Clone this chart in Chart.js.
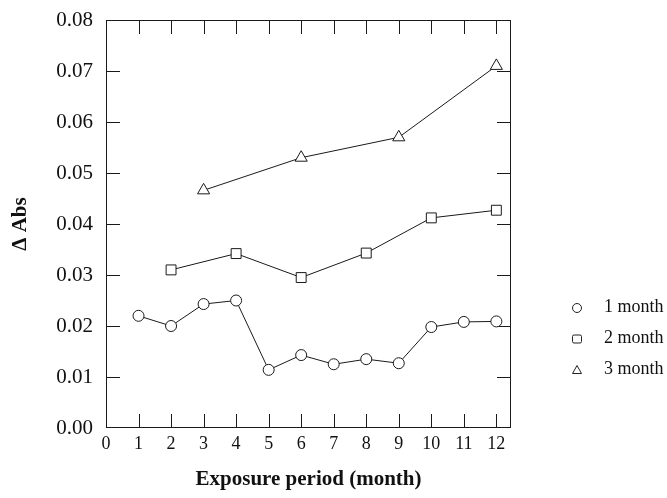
<!DOCTYPE html>
<html>
<head>
<meta charset="utf-8">
<script src="https://cdn.jsdelivr.net/npm/chart.js@4/dist/chart.umd.min.js"></script>
<style>
	html,body{margin:0;padding:0;background:#fff;}
	#wrap{position:relative;width:667px;height:498px;}
	#legend{position:absolute;left:570px;top:295px;font-family:"Liberation Serif",serif;font-size:18px;color:#111;}
	#legend div{height:31px;line-height:22px;white-space:nowrap;}
	#legend svg{vertical-align:middle;margin-right:20px;}
</style>
</head>
<body>
<div id="wrap">
	<canvas id="grafica" width="667" height="498"></canvas>
	<div id="legend">
		<div><svg width="14" height="14"><circle cx="7" cy="7" r="4.5" fill="#fff" stroke="#222" stroke-width="1"/></svg>1 month</div>
		<div><svg width="14" height="14"><rect x="2.5" y="3" width="9" height="8" rx="1.5" fill="#fff" stroke="#222" stroke-width="1"/></svg>2 month</div>
		<div><svg width="14" height="14"><path d="M7 2.5 L11.5 10.5 L2.5 10.5 Z" fill="#fff" stroke="#222" stroke-width="1"/></svg>3 month</div>
	</div>
</div>
<script>
// exposure months for each series
var MESES_1=[1,2,3,4,5,6,7,8,9,10,11,12];
var MESES_2=[2,4,6,8,10,12];
var MESES_3=[3,6,9,12];
// delta absorbance
var ABS_1=[0.022,0.020,0.0243,0.0250,0.0114,0.0143,0.0125,0.0135,0.0127,0.0198,0.0208,0.0209];
var ABS_2=[0.0310,0.0342,0.0295,0.0343,0.0412,0.0427];
var ABS_3=[0.0466,0.0530,0.0570,0.0710];
var SERIES=["1 month","2 month","3 month"];
var X_TICKS=[0,1,2,3,4,5,6,7,8,9,10,11,12];
var Y_TICKS=[0,0.01,0.02,0.03,0.04,0.05,0.06,0.07,0.08];

function puntos(xs,ys){
	var arr=new Array();
	for(i=0;i<xs.length;i++){
		arr.push({x:xs[i],y:ys[i]});
	}
	return arr;
}

var FUENTE="'Liberation Serif', serif";

// box around the plot plus inward tick marks on all four sides
var marcoTicks={
	id:'marcoTicks',
	beforeDatasetsDraw:function(chart){
		var ctx=chart.ctx, a=chart.chartArea, sx=chart.scales.x, sy=chart.scales.y;
		var largo=14;
		ctx.save();
		ctx.strokeStyle='#1a1a1a';
		ctx.lineWidth=1;
		ctx.strokeRect(a.left+0.5,a.top+0.5,a.right-a.left-1,a.bottom-a.top-1);
		ctx.beginPath();
		for(i=1;i<X_TICKS.length;i++){
			var px=Math.round(sx.getPixelForValue(X_TICKS[i]))+0.5;
			ctx.moveTo(px,a.bottom);ctx.lineTo(px,a.bottom-largo);
			ctx.moveTo(px,a.top);ctx.lineTo(px,a.top+largo);
		}
		for(i=1;i<Y_TICKS.length-1;i++){
			var py=Math.round(sy.getPixelForValue(Y_TICKS[i]))+0.5;
			ctx.moveTo(a.left,py);ctx.lineTo(a.left+largo,py);
			ctx.moveTo(a.right,py);ctx.lineTo(a.right-largo,py);
		}
		ctx.stroke();
		ctx.restore();
	}
};

var estilos=['circle','rect','triangle'];
var radios=[5.5,7,7];
var datos=[puntos(MESES_1,ABS_1),puntos(MESES_2,ABS_2),puntos(MESES_3,ABS_3)];
var datasets=new Array();
for(i=0;i<SERIES.length;i++){
	datasets.push({
		label:SERIES[i],
		data:datos[i],
		borderColor:'#1a1a1a',
		borderWidth:1,
		backgroundColor:'#fff',
		pointStyle:estilos[i],
		pointRadius:radios[i],
		pointBorderWidth:1,
		pointBackgroundColor:'#fff',
		pointBorderColor:'#1a1a1a',
		tension:0,
		fill:false
	});
}

var config={
	type:'line',
	data:{datasets:datasets},
	options:{
		responsive:false,
		animation:false,
		layout:{padding:{top:20,right:156,bottom:0,left:0}},
		plugins:{legend:{display:false},tooltip:{enabled:false}},
		scales:{
			x:{
				type:'linear',
				min:0,max:12.45,
				grid:{display:false,drawTicks:false},
				border:{display:false},
				afterBuildTicks:function(s){s.ticks=X_TICKS.map(function(v){return {value:v};});},
				afterFit:function(s){s.height=70;s.paddingLeft=0;s.paddingRight=0;},
				ticks:{color:'#111',padding:5,font:{family:FUENTE,size:18},maxRotation:0,autoSkip:false},
				title:{display:true,text:'Exposure period (month)',color:'#111',font:{family:FUENTE,size:21,weight:'bold'},padding:{top:6,bottom:6}}
			},
			y:{
				min:0,max:0.08,
				grid:{display:false,drawTicks:false},
				border:{display:false},
				afterBuildTicks:function(s){s.ticks=Y_TICKS.map(function(v){return {value:v};});},
				afterFit:function(s){s.width=106;s.paddingTop=0;s.paddingBottom=0;},
				ticks:{color:'#111',padding:13,font:{family:FUENTE,size:21},callback:function(v){return v.toFixed(2);}},
				title:{display:true,text:'\u0394 Abs',color:'#111',font:{family:FUENTE,size:21,weight:'bold'},padding:{top:8,bottom:8}}
			}
		}
	},
	plugins:[marcoTicks]
};

new Chart(document.getElementById('grafica').getContext('2d'),config);
</script>
</body>
</html>
